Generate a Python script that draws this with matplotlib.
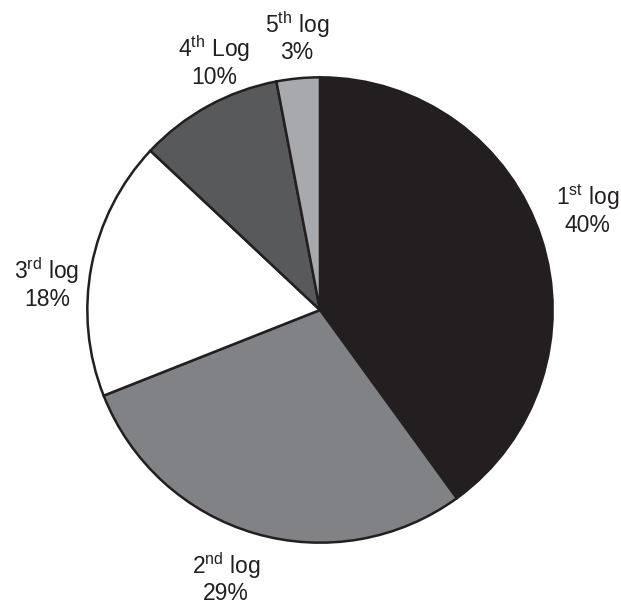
import matplotlib
matplotlib.use("Agg")
import matplotlib.pyplot as plt

plt.rcParams["font.family"] = ["Liberation Sans", "DejaVu Sans"]
plt.rcParams["mathtext.fontset"] = "custom"
plt.rcParams["mathtext.rm"] = "Liberation Sans"
plt.rcParams["mathtext.it"] = "Liberation Sans"

# 各段占比（顺时针，从正上方开始）
names = [r"1$^{\rm st}$ log", r"2$^{\rm nd}$ log", r"3$^{\rm rd}$ log",
         r"4$^{\rm th}$ Log", r"5$^{\rm th}$ log"]
shares = [40, 29, 18, 10, 3]
colors = ["#231f20", "#808285", "#ffffff", "#58595b", "#a7a9ac"]
# 标签中心位置（以半径为单位）
label_pos = [(1.15, 0.43), (-0.404, -1.15), (-1.174, 0.115),
             (-0.455, 1.07), (-0.098, 1.175)]

W, H = 621, 605
cx, cy, r = 320, 310, 235
fig = plt.figure(figsize=(W / 100, H / 100), dpi=100)
ax = fig.add_axes([(cx - r) / W, (H - cy - r) / H, 2 * r / W, 2 * r / H])

ax.pie(shares, colors=colors, startangle=90, counterclock=False, radius=1,
       wedgeprops=dict(edgecolor="#231f20", linewidth=1.8))
ax.set_xlim(-1.01, 1.01)
ax.set_ylim(-1.01, 1.01)

for name, v, (x, y) in zip(names, shares, label_pos):
    ax.text(x, y, f"{name}\n{v}%", ha="center", va="center", fontsize=16.5,
            color="#231f20", linespacing=1.1, clip_on=False)

ax.axis("off")
fig.savefig("out.png", dpi=100, facecolor="white")
